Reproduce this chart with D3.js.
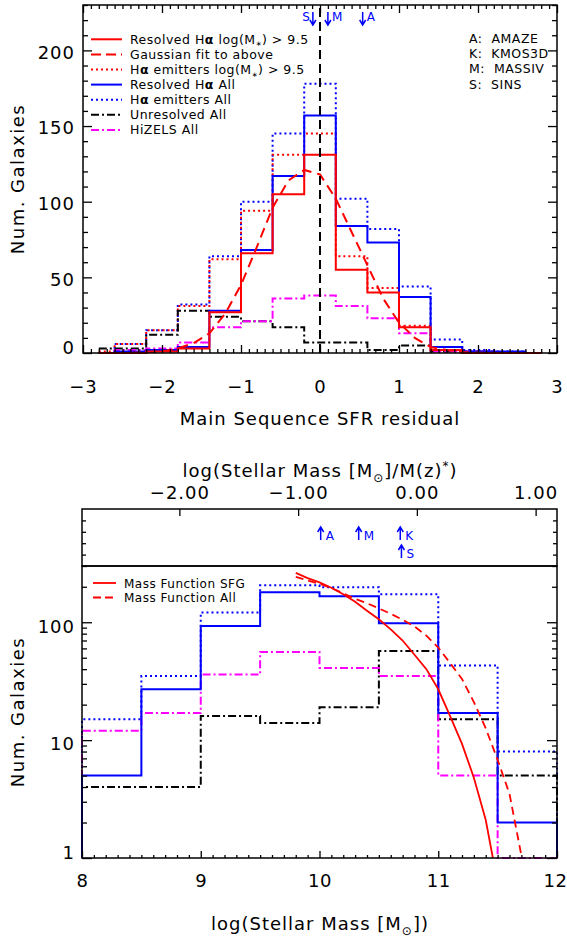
<!DOCTYPE html>
<html>
<head>
<meta charset="utf-8">
<script src="https://cdnjs.cloudflare.com/ajax/libs/d3/7.8.5/d3.min.js"></script>
<style>
body{margin:0;background:#fff;}
text{font-family:"DejaVu Sans",sans-serif;fill:#000;}
</style>
</head>
<body>
<svg id="chart" width="567" height="941"></svg>
<script>
// ---- top panel: main sequence SFR residual histograms (bin centres, width 0.4)
var sfrCenters=[-2.8,-2.4,-2.0,-1.6,-1.2,-0.8,-0.4,0.0,0.4,0.8,1.2,1.6,2.0,2.4,2.8];
var resHighMass=[0,0,1,3,27,66,105,131,55,40,17,2,0,0,0];
var haHighMass=[1,6,15,31,62,94,131,145,64,43,18,4,0,0,0];
var resAll=[0,1,2,4,28,68,117,157,84,73,37,4,1,1,0];
var haAll=[0,6,15,32,64,100,145,178,102,82,44,9,2,1,0];
var unresAll=[3,3,12,28,24,21,17,7,7,2,5,1,1,0,0];
var hizelsAll=[0,2,3,7,17,21,36,38,31,23,13,1,1,0,0];
// gaussian fit
var gaussX=[-2.8,-2.4,-2.0,-1.8,-1.6,-1.4,-1.2,-1.0,-0.8,-0.6,-0.4,-0.2,0.0,0.2,0.4,0.6,0.8,1.0,1.2,1.4,1.6,1.8,2.0,2.4,2.8];
var gaussY=[0,0.1,1,3,6.5,13,26,45,70,96,114,121,118,102,80,58,36,20,10,4,2,0.6,0.2,0,0];
var sfrTicks=[-3,-2,-1,0,1,2,3];
var countTicks=[0,50,100,150,200];
var sfrArrowName=["S","M","A"];
var sfrArrowX=[-0.09,0.10,0.54];
var surveyKey=["A:  AMAZE","K:  KMOS3D","M:  MASSIV","S:  SINS"];

// ---- bottom panel: stellar mass histograms (bin centres, width 0.5)
var massCenters=[8.25,8.75,9.25,9.75,10.25,10.75,11.25,11.75];
var mResAll=[5,27,93,180,166,98,17,2];
var mHaAll=[15,35,121,206,198,173,43,8];
var mHizels=[12,17,36,56,41,35,5,0];
var mUnres=[4,4,16,14,19,57,15,5];
var mfSfgX=[9.8,9.9,10.0,10.1,10.2,10.3,10.4,10.5,10.6,10.7,10.8,10.9,11.0,11.1,11.2,11.3,11.4,11.46];
var mfSfgY=[262,237,218,196,173,149,125,106,87,70,53,40,27,16,9.3,4.8,2.1,1.0];
var mfAllX=[9.8,9.9,10.0,10.1,10.2,10.3,10.4,10.5,10.6,10.7,10.8,10.9,11.0,11.1,11.2,11.3,11.4,11.5,11.6,11.7];
var mfAllY=[243,226,212,195,176,158,145,131,118,105,92,77,61,45,33,21,12.6,6.8,3.5,1.05];
var massTicks=[8,9,10,11,12];
var relMassTicks=[-2,-1,0,1];
var mStar=10.82;
var massArrowName=["A","M","K","S"];
var massArrowX=[-0.81,-0.49,-0.14,-0.13];
var massArrowRow=[0,0,0,1];

var svg=d3.select("#chart");
var blue="#0000ff",red="#ff0000",mag="#ff00ff";

var x1=d3.scaleLinear().domain([-3,3]).range([83,557]);
var y1=d3.scaleLinear().domain([0,230]).range([353,5]);
var x2=d3.scaleLinear().domain([8,12]).range([82,557]);
var xTop=d3.scaleLinear().domain([8-mStar,12-mStar]).range([82,557]);
var y2=d3.scaleLog().domain([1,300]).range([858,566]);
var ySub=d3.scaleLinear().domain([0,1]).range([566,509]);

// idl psym=10 style steps
function idlSteps(xs,ys){
  var pts=[];
  for(var i=0;i<xs.length;i++){
    var lo=i===0?xs[0]:(xs[i-1]+xs[i])/2;
    var hi=i===xs.length-1?xs[i]:(xs[i]+xs[i+1])/2;
    pts.push([lo,ys[i]],[hi,ys[i]]);
  }
  return pts;
}
function binSteps(xs,ys,half,floor){
  var pts=[[xs[0]-half,floor]];
  xs.forEach(function(x,i){
    var v=Math.max(ys[i],floor);
    pts.push([x-half,v],[x+half,v]);
  });
  pts.push([xs[xs.length-1]+half,floor]);
  return pts;
}

function tickAxis(axisFn,scale,vals,len,transform,fmt){
  var ax=axisFn(scale).tickValues(vals).tickSize(-len).tickFormat(fmt||"");
  var g=svg.append("g").attr("transform",transform).call(ax);
  g.select(".domain").remove();
  g.selectAll("line").attr("stroke","#000").attr("stroke-width",1.3);
  g.attr("font-family","DejaVu Sans").attr("font-size",18);
  g.selectAll("text").attr("letter-spacing",1);
  return g;
}

////////////////// top panel
var line1=d3.line().x(function(d){return x1(d[0]);}).y(function(d){return y1(d[1]);});
var topSeries=[
  {v:haAll,color:blue,dash:"2,3"},
  {v:haHighMass,color:red,dash:"2,3"},
  {v:unresAll,color:"#000",dash:"8,3,2,3"},
  {v:hizelsAll,color:mag,dash:"8,3,2,3"},
  {v:resAll,color:blue,dash:null},
  {v:resHighMass,color:red,dash:null}
];
topSeries.forEach(function(s){
  svg.append("path")
     .attr("d",line1(idlSteps(sfrCenters,s.v)))
     .attr("fill","none")
     .attr("stroke",s.color)
     .attr("stroke-width",2)
     .attr("stroke-dasharray",s.dash);
});
svg.append("path")
   .attr("d",line1(gaussX.map(function(x,i){return [x,gaussY[i]];})))
   .attr("fill","none").attr("stroke",red).attr("stroke-width",2)
   .attr("stroke-dasharray","10,6");
svg.append("line")
   .attr("x1",x1(0)).attr("x2",x1(0)).attr("y1",y1(0)).attr("y2",y1(230))
   .attr("stroke","#000").attr("stroke-width",2).attr("stroke-dasharray","9,5");

var minorSfr=d3.range(-30,31).filter(function(i){return i%10!==0;}).map(function(i){return i/10;});
var minorCount=d3.range(0,231,10).filter(function(v){return v%50!==0;});
var gx=tickAxis(d3.axisBottom,x1,sfrTicks,8,"translate(0,353)",function(d){return d3.format("")(d);});
gx.selectAll("text").attr("y",27);
tickAxis(d3.axisBottom,x1,minorSfr,4,"translate(0,353)");
tickAxis(d3.axisTop,x1,sfrTicks,8,"translate(0,5)");
tickAxis(d3.axisTop,x1,minorSfr,4,"translate(0,5)");
var gy=tickAxis(d3.axisLeft,y1,countTicks,9,"translate(83,0)",function(d){return d;});
gy.selectAll("text").attr("x",-8).attr("y",function(d){return d===0?-5:2;});
tickAxis(d3.axisLeft,y1,minorCount,5,"translate(83,0)");
tickAxis(d3.axisRight,y1,countTicks,9,"translate(557,0)");
tickAxis(d3.axisRight,y1,minorCount,5,"translate(557,0)");
svg.append("rect").attr("x",83).attr("y",5).attr("width",474).attr("height",348)
   .attr("fill","none").attr("stroke","#000").attr("stroke-width",1.5);

svg.append("text").attr("x",320).attr("y",425).attr("text-anchor","middle")
   .attr("font-size",18).attr("letter-spacing",1).text("Main Sequence SFR residual");
svg.append("text").attr("transform","translate(24,179) rotate(-90)").attr("text-anchor","middle")
   .attr("font-size",18).attr("letter-spacing",1.5).text("Num. Galaxies");

// survey arrows (down)
sfrArrowX.forEach(function(v,i){
  var x=x1(v);
  svg.append("path")
     .attr("d","M"+x+",12L"+x+",25M"+(x-3)+",20L"+x+",25L"+(x+3)+",20")
     .attr("fill","none").attr("stroke",blue).attr("stroke-width",1.5);
  var left=sfrArrowName[i]==="S";
  svg.append("text").attr("x",left?x-3:x+4).attr("y",21)
     .attr("text-anchor",left?"end":"start")
     .attr("font-size",12).style("fill",blue).text(sfrArrowName[i]);
});
surveyKey.forEach(function(t,i){
  svg.append("text").attr("x",469).attr("y",43+i*15.2)
     .attr("font-size",12.5).attr("letter-spacing",0.5)
     .style("white-space","pre").text(t);
});

// legend
var legTop=[
  {color:red,dash:null,label:["Resolved H","α"," log(M","∗",") > 9.5"]},
  {color:red,dash:"10,5",label:["Gaussian fit to above"]},
  {color:red,dash:"2,3",label:["H","α"," emitters log(M","∗",") > 9.5"]},
  {color:blue,dash:null,label:["Resolved H","α"," All"]},
  {color:blue,dash:"2,3",label:["H","α"," emitters All"]},
  {color:"#000",dash:"8,3,2,3",label:["Unresolved All"]},
  {color:mag,dash:"8,3,2,3",label:["HiZELS All"]}
];
legTop.forEach(function(e,i){
  var y=39.3+i*15.1;
  svg.append("line").attr("x1",91).attr("x2",122).attr("y1",y).attr("y2",y)
     .attr("stroke",e.color).attr("stroke-width",2).attr("stroke-dasharray",e.dash);
  var t=svg.append("text").attr("x",130).attr("y",y+4.5).attr("font-size",12.5)
     .attr("letter-spacing",0.5).style("white-space","pre");
  var sub=false;
  e.label.forEach(function(p){
    if(p==="∗"){
      t.append("tspan").attr("font-size",7).attr("dy",2.5).text(p);sub=true;
    }else if(p==="α"){
      t.append("tspan").attr("font-weight","bold").text(p);
    }else{
      t.append("tspan").attr("dy",sub?-2.5:0).text(p);sub=false;
    }
  });
});

////////////////// bottom panel
var line2=d3.line().x(function(d){return x2(d[0]);}).y(function(d){return y2(d[1]);});
var botSeries=[
  {v:mHaAll,color:blue,dash:"2,3"},
  {v:mUnres,color:"#000",dash:"8,3,2,3"},
  {v:mHizels,color:mag,dash:"8,3,2,3"},
  {v:mResAll,color:blue,dash:null}
];
botSeries.forEach(function(s){
  svg.append("path")
     .attr("d",line2(binSteps(massCenters,s.v,0.25,1)))
     .attr("fill","none")
     .attr("stroke",s.color)
     .attr("stroke-width",2)
     .attr("stroke-dasharray",s.dash);
});
svg.append("path")
   .attr("d",line2(mfSfgX.map(function(x,i){return [x,mfSfgY[i]];})))
   .attr("fill","none").attr("stroke",red).attr("stroke-width",1.8);
svg.append("path")
   .attr("d",line2(mfAllX.map(function(x,i){return [x,mfAllY[i]];})))
   .attr("fill","none").attr("stroke",red).attr("stroke-width",1.8)
   .attr("stroke-dasharray","8,5");

var minorMass=d3.range(80,121).filter(function(i){return i%10!==0;}).map(function(i){return i/10;});
var logMajor=[1,10,100];
var logMinor=[2,3,4,5,6,7,8,9,20,30,40,50,60,70,80,90,200,300];
var gx2=tickAxis(d3.axisBottom,x2,massTicks,7,"translate(0,858)",function(d){return d;});
gx2.selectAll("text").attr("y",16).attr("letter-spacing",0.5)
   .attr("x",function(d){return d===12?-2:0;});
tickAxis(d3.axisBottom,x2,minorMass,3,"translate(0,858)");
var gy2=tickAxis(d3.axisLeft,y2,logMajor,10,"translate(82,0)",function(d){return d;});
gy2.selectAll("text").attr("x",-7).attr("y",function(d){return d===1?-5:4;});
tickAxis(d3.axisLeft,y2,logMinor,5,"translate(82,0)");
tickAxis(d3.axisRight,y2,logMajor,10,"translate(557,0)");
tickAxis(d3.axisRight,y2,logMinor,5,"translate(557,0)");
// upper strip with relative mass axis
var gt=tickAxis(d3.axisTop,xTop,relMassTicks,7,"translate(0,509)",d3.format(".2f"));
gt.selectAll("text").attr("y",-10);
tickAxis(d3.axisLeft,ySub,[0.2,0.4,0.6,0.8],4,"translate(82,0)");
tickAxis(d3.axisRight,ySub,[0.2,0.4,0.6,0.8],4,"translate(557,0)");
svg.append("rect").attr("x",82).attr("y",509).attr("width",475).attr("height",57)
   .attr("fill","none").attr("stroke","#000").attr("stroke-width",1.5);
svg.append("rect").attr("x",82).attr("y",566).attr("width",475).attr("height",292)
   .attr("fill","none").attr("stroke","#000").attr("stroke-width",1.5);

massArrowX.forEach(function(v,i){
  var x=xTop(v),b=540+massArrowRow[i]*18;
  svg.append("path")
     .attr("d","M"+x+","+b+"L"+x+","+(b-13)+"M"+(x-3)+","+(b-8)+"L"+x+","+(b-13)+"L"+(x+3)+","+(b-8))
     .attr("fill","none").attr("stroke",blue).attr("stroke-width",1.5);
  svg.append("text").attr("x",x+5).attr("y",b)
     .attr("font-size",12).style("fill",blue).text(massArrowName[i]);
});

var t1=svg.append("text").attr("x",320).attr("y",930).attr("text-anchor","middle")
   .attr("font-size",18).attr("letter-spacing",1);
t1.append("tspan").text("log(Stellar Mass [M");
t1.append("tspan").attr("font-size",12).attr("dy",5).text("⊙");
t1.append("tspan").attr("dy",-5).text("])");
var t2=svg.append("text").attr("x",320).attr("y",477).attr("text-anchor","middle")
   .attr("font-size",18).attr("letter-spacing",1);
t2.append("tspan").text("log(Stellar Mass [M");
t2.append("tspan").attr("font-size",12).attr("dy",5).text("⊙");
t2.append("tspan").attr("dy",-5).text("]/M(z)");
t2.append("tspan").attr("font-size",12).attr("dy",-7).text("*");
t2.append("tspan").attr("dy",7).text(")");
svg.append("text").attr("transform","translate(24,712) rotate(-90)").attr("text-anchor","middle")
   .attr("font-size",18).attr("letter-spacing",1.5).text("Num. Galaxies");

var legBot=[{dash:null,label:"Mass Function SFG"},{dash:"8,4",label:"Mass Function All"}];
legBot.forEach(function(e,i){
  var y=583+i*14.5;
  svg.append("line").attr("x1",93).attr("x2",116).attr("y1",y).attr("y2",y)
     .attr("stroke",red).attr("stroke-width",1.8).attr("stroke-dasharray",e.dash);
  svg.append("text").attr("x",124).attr("y",y+4.5).attr("font-size",12)
     .attr("letter-spacing",0.5).text(e.label);
});
</script>
</body>
</html>
